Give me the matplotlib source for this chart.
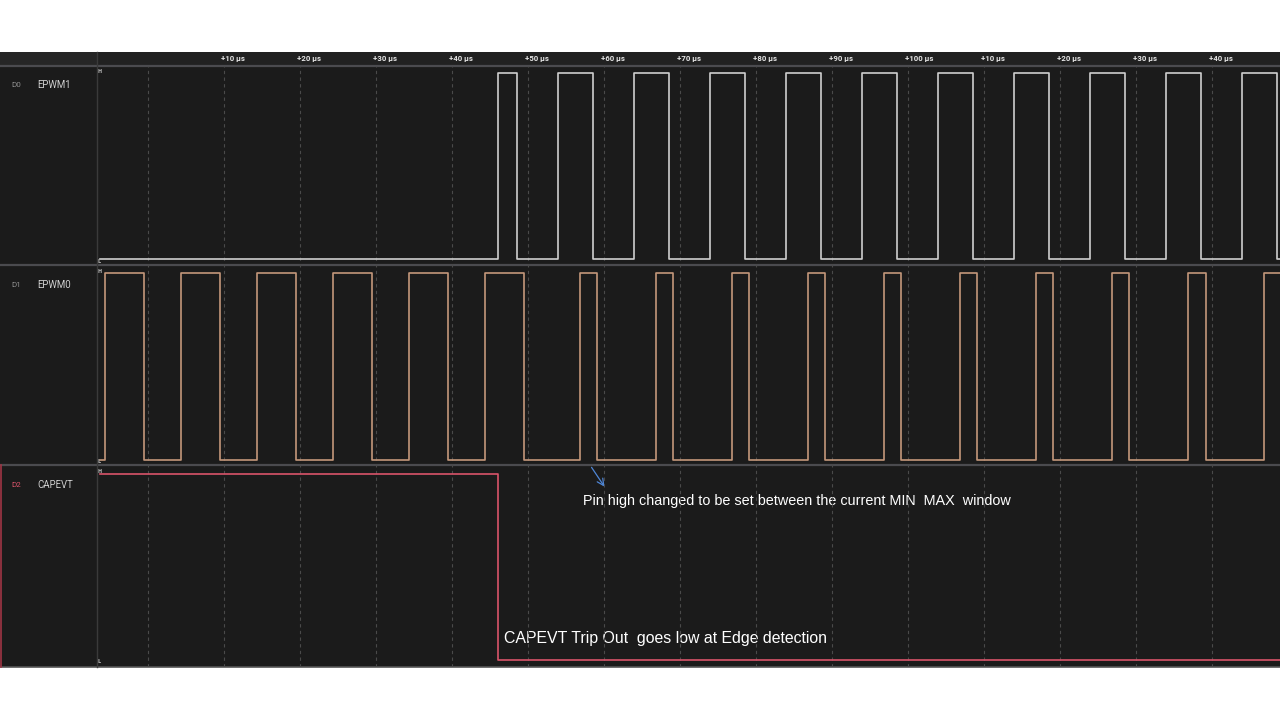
import matplotlib
matplotlib.use('Agg')
import matplotlib.pyplot as plt
from matplotlib.patches import Rectangle

# channel names (top to bottom)
channels = ['EPWM1', 'EPWM0', 'CAPEVT']
chan_ids = ['D0', 'D1', 'D2']
chan_colors = ['#cfcfcf', '#c4977a', '#d9546a']

# edge times in microseconds, signal starts low / low / high
epwm1_start = 0
epwm1_edges = [46.0, 48.5, 54.0, 58.5, 64.0, 68.5, 74.0, 78.5, 84.0, 88.5,
               94.0, 98.5, 104.0, 108.5, 114.0, 118.5, 124.0, 128.5,
               134.0, 138.5, 144.0, 148.5]
epwm0_start = 0
epwm0_edges = [-5.6, -0.5, 4.4, 9.5, 14.4, 19.5, 24.4, 29.5, 34.4, 39.5,
               44.4, 49.5, 56.9, 59.1, 66.9, 69.1, 76.9, 79.1, 86.9, 89.1,
               96.9, 99.1, 106.9, 109.1, 116.9, 119.1, 126.9, 129.1,
               136.9, 139.2, 146.9]
capevt_start = 1
capevt_edges = [46.0]

t_start, t_end = -6.3, 149.0
tick_pos = [10, 20, 30, 40, 50, 60, 70, 80, 90, 100, 110, 120, 130, 140]
tick_labels = ['+10 µs', '+20 µs', '+30 µs', '+40 µs', '+50 µs', '+60 µs',
               '+70 µs', '+80 µs', '+90 µs', '+100 µs', '+10 µs', '+20 µs',
               '+30 µs', '+40 µs']
grid_pos = [0] + tick_pos

note1 = 'Pin high changed to be set between the current MIN  MAX  window'
note2 = 'CAPEVT Trip Out  goes low at Edge detection'


def step_points(start_level, edges):
    xs = [t_start] + edges + [t_end]
    ys = [start_level]
    lvl = start_level
    for _ in edges:
        lvl = 1 - lvl
        ys.append(lvl)
    ys.append(lvl)
    return xs, ys


W, H = 1280, 720
fig = plt.figure(figsize=(12.8, 7.2), dpi=100)
fig.patch.set_facecolor('white')

# background in pixel coords
bg = fig.add_axes([0, 0, 1, 1], zorder=0)
bg.set_xlim(0, W)
bg.set_ylim(H, 0)
bg.axis('off')
bg.add_patch(Rectangle((0, 52), W, 615, color='#1b1b1b', lw=0))
bg.add_patch(Rectangle((0, 52), W, 14, color='#212121', lw=0))
bg.add_patch(Rectangle((0, 52), 97, 14, color='#262626', lw=0))
for yy in [66, 265, 465]:
    bg.plot([0, W], [yy, yy], color='#4b4b4f', lw=1.6)
bg.plot([0, W], [667, 667], color='#555555', lw=1.2)
bg.plot([97, 97], [52, 667], color='#3a3a3a', lw=1.0)
bg.plot([1.2, 1.2], [465, 667], color='#a03545', lw=1.2)

# waveforms
ax = fig.add_axes([97 / W, (H - 667) / H, (W - 97) / W, (667 - 66) / H], zorder=2)
ax.set_xlim((97 - 148) / 7.6, (W - 148) / 7.6)
ax.set_ylim(0, 3)
ax.patch.set_alpha(0)
ax.axis('off')
for g in grid_pos:
    ax.axvline(g, color='#4a4a4a', lw=0.8, ls=(0, (3, 3)), zorder=1)

signals = [(epwm1_start, epwm1_edges), (epwm0_start, epwm0_edges),
           (capevt_start, capevt_edges)]
for i, (s0, edges) in enumerate(signals):
    base = 2 - i
    xs, ys = step_points(s0, edges)
    lv = [base + 0.035 + 0.93 * v for v in ys]
    ax.step(xs, lv, where='post', color=chan_colors[i], lw=1.2, zorder=3)
    ax.text(t_start - 0.35, base + 0.975, 'H', fontsize=3.5, color='#bbbbbb',
            ha='left', va='center', fontweight='bold')
    ax.text(t_start - 0.35, base + 0.025, 'L', fontsize=3.5, color='#bbbbbb',
            ha='left', va='center', fontweight='bold')

# time ruler
rul = fig.add_axes([97 / W, (H - 66) / H, (W - 97) / W, 14 / H], zorder=2)
rul.set_xlim(ax.get_xlim())
rul.set_ylim(0, 1)
rul.patch.set_alpha(0)
rul.axis('off')
for p, lab in zip(tick_pos, tick_labels):
    rul.text(p - 0.35, 0.5, lab, fontsize=5.6, color='#e6e6e6', ha='left',
             va='center', fontweight='bold', family='Roboto')

# channel labels
for i, name in enumerate(channels):
    yy = 85 + 200 * i
    id_col = '#d9546a' if i == 2 else '#8f8f8f'
    bg.text(11, yy, chan_ids[i], fontsize=5.8, color=id_col, va='center',
            family='Roboto')
    bg.text(37, yy, name, fontsize=6.9, color='#cfcfcf', va='center',
            family='Roboto')

# annotations
bg.annotate('', xy=(606, 489), xytext=(590, 465),
            arrowprops=dict(arrowstyle='->', color='#4f86d6', lw=0.9,
                            mutation_scale=12))
bg.text(583, 501, note1, fontsize=10.35, color='white', va='center',
        family='Liberation Sans')
bg.text(504, 638, note2, fontsize=11.4, color='white', va='center',
        family='Liberation Sans')

fig.savefig('out.png', dpi=100)
